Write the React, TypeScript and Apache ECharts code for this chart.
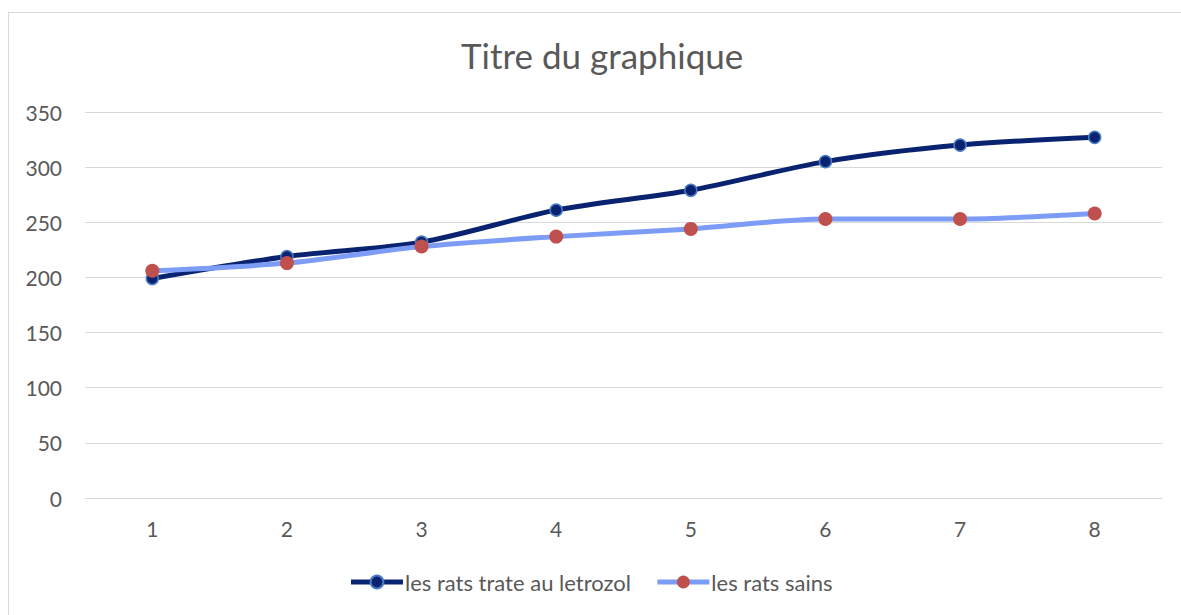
import React, { useEffect, useRef } from "react";
import * as echarts from "echarts";

const categories = ["1", "2", "3", "4", "5", "6", "7", "8"];
const letrozolValues = [199, 219, 232, 261, 279, 305, 320, 327];
const sainsValues = [206, 213, 228, 237, 244, 253, 253, 258];
const seriesNames = ["les rats trate au letrozol", "les rats sains"];
const titleText = "Titre du graphique";

const FONT = "Lato, 'Open Sans', sans-serif";
const TEXT_COLOR = "#595959";

export default function App() {
  const ref = useRef<HTMLDivElement>(null);
  useEffect(() => {
    if (!ref.current) return;
    const chart = echarts.init(ref.current, undefined, { renderer: "svg" });
    chart.setOption({
      animation: false,
      textStyle: { fontFamily: FONT },
      title: {
        text: titleText,
        left: 461,
        top: 37,
        padding: 0,
        textStyle: { fontFamily: FONT, fontSize: 35, fontWeight: "normal", color: TEXT_COLOR },
      },
      graphic: [
        {
          type: "line",
          shape: { x1: 8, y1: 12.5, x2: 1181, y2: 12.5 },
          style: { stroke: "#D9D9D9", lineWidth: 1 },
          silent: true,
          z: -10,
        },
        {
          type: "line",
          shape: { x1: 8.5, y1: 12, x2: 8.5, y2: 615 },
          style: { stroke: "#D9D9D9", lineWidth: 1 },
          silent: true,
          z: -10,
        },
      ],
      grid: { left: 85, right: 19, top: 112, bottom: 117, containLabel: false },
      legend: {
        top: 566,
        left: "center",
        itemWidth: 52,
        itemHeight: 16,
        itemGap: 24,
        lineStyle: { width: 5 },
        textStyle: { fontFamily: FONT, fontSize: 22, color: TEXT_COLOR, padding: [0, 0, 0, -3] },
        data: seriesNames,
      },
      xAxis: {
        type: "category",
        data: categories,
        boundaryGap: true,
        axisLine: { show: true, lineStyle: { color: "#D9D9D9", width: 1 } },
        axisTick: { show: false },
        axisLabel: { color: TEXT_COLOR, fontSize: 21, margin: 20, fontFamily: FONT },
      },
      yAxis: {
        type: "value",
        min: 0,
        max: 350,
        interval: 50,
        axisLine: { show: false },
        axisTick: { show: false },
        splitLine: { lineStyle: { color: "#D9D9D9", width: 1 } },
        axisLabel: { color: TEXT_COLOR, fontSize: 21, margin: 23, fontFamily: FONT },
      },
      series: [
        {
          name: seriesNames[0],
          type: "line",
          data: letrozolValues,
          smooth: 0.3,
          symbol: "circle",
          symbolSize: 12,
          lineStyle: { color: "#0A2370", width: 5 },
          itemStyle: { color: "#0A2370", borderColor: "#4A7CC4", borderWidth: 1.5 },
          z: 2,
        },
        {
          name: seriesNames[1],
          type: "line",
          data: sainsValues,
          smooth: 0.3,
          symbol: "circle",
          symbolSize: 14,
          lineStyle: { color: "#7D9CF6", width: 5 },
          itemStyle: { color: "#C0504D", borderWidth: 0 },
          z: 3,
        },
      ],
    });
    return () => chart.dispose();
  }, []);
  return (
    <div
      ref={ref}
      style={{ position: "fixed", left: 0, top: 0, width: 1181, height: 615, background: "#fff" }}
    />
  );
}
